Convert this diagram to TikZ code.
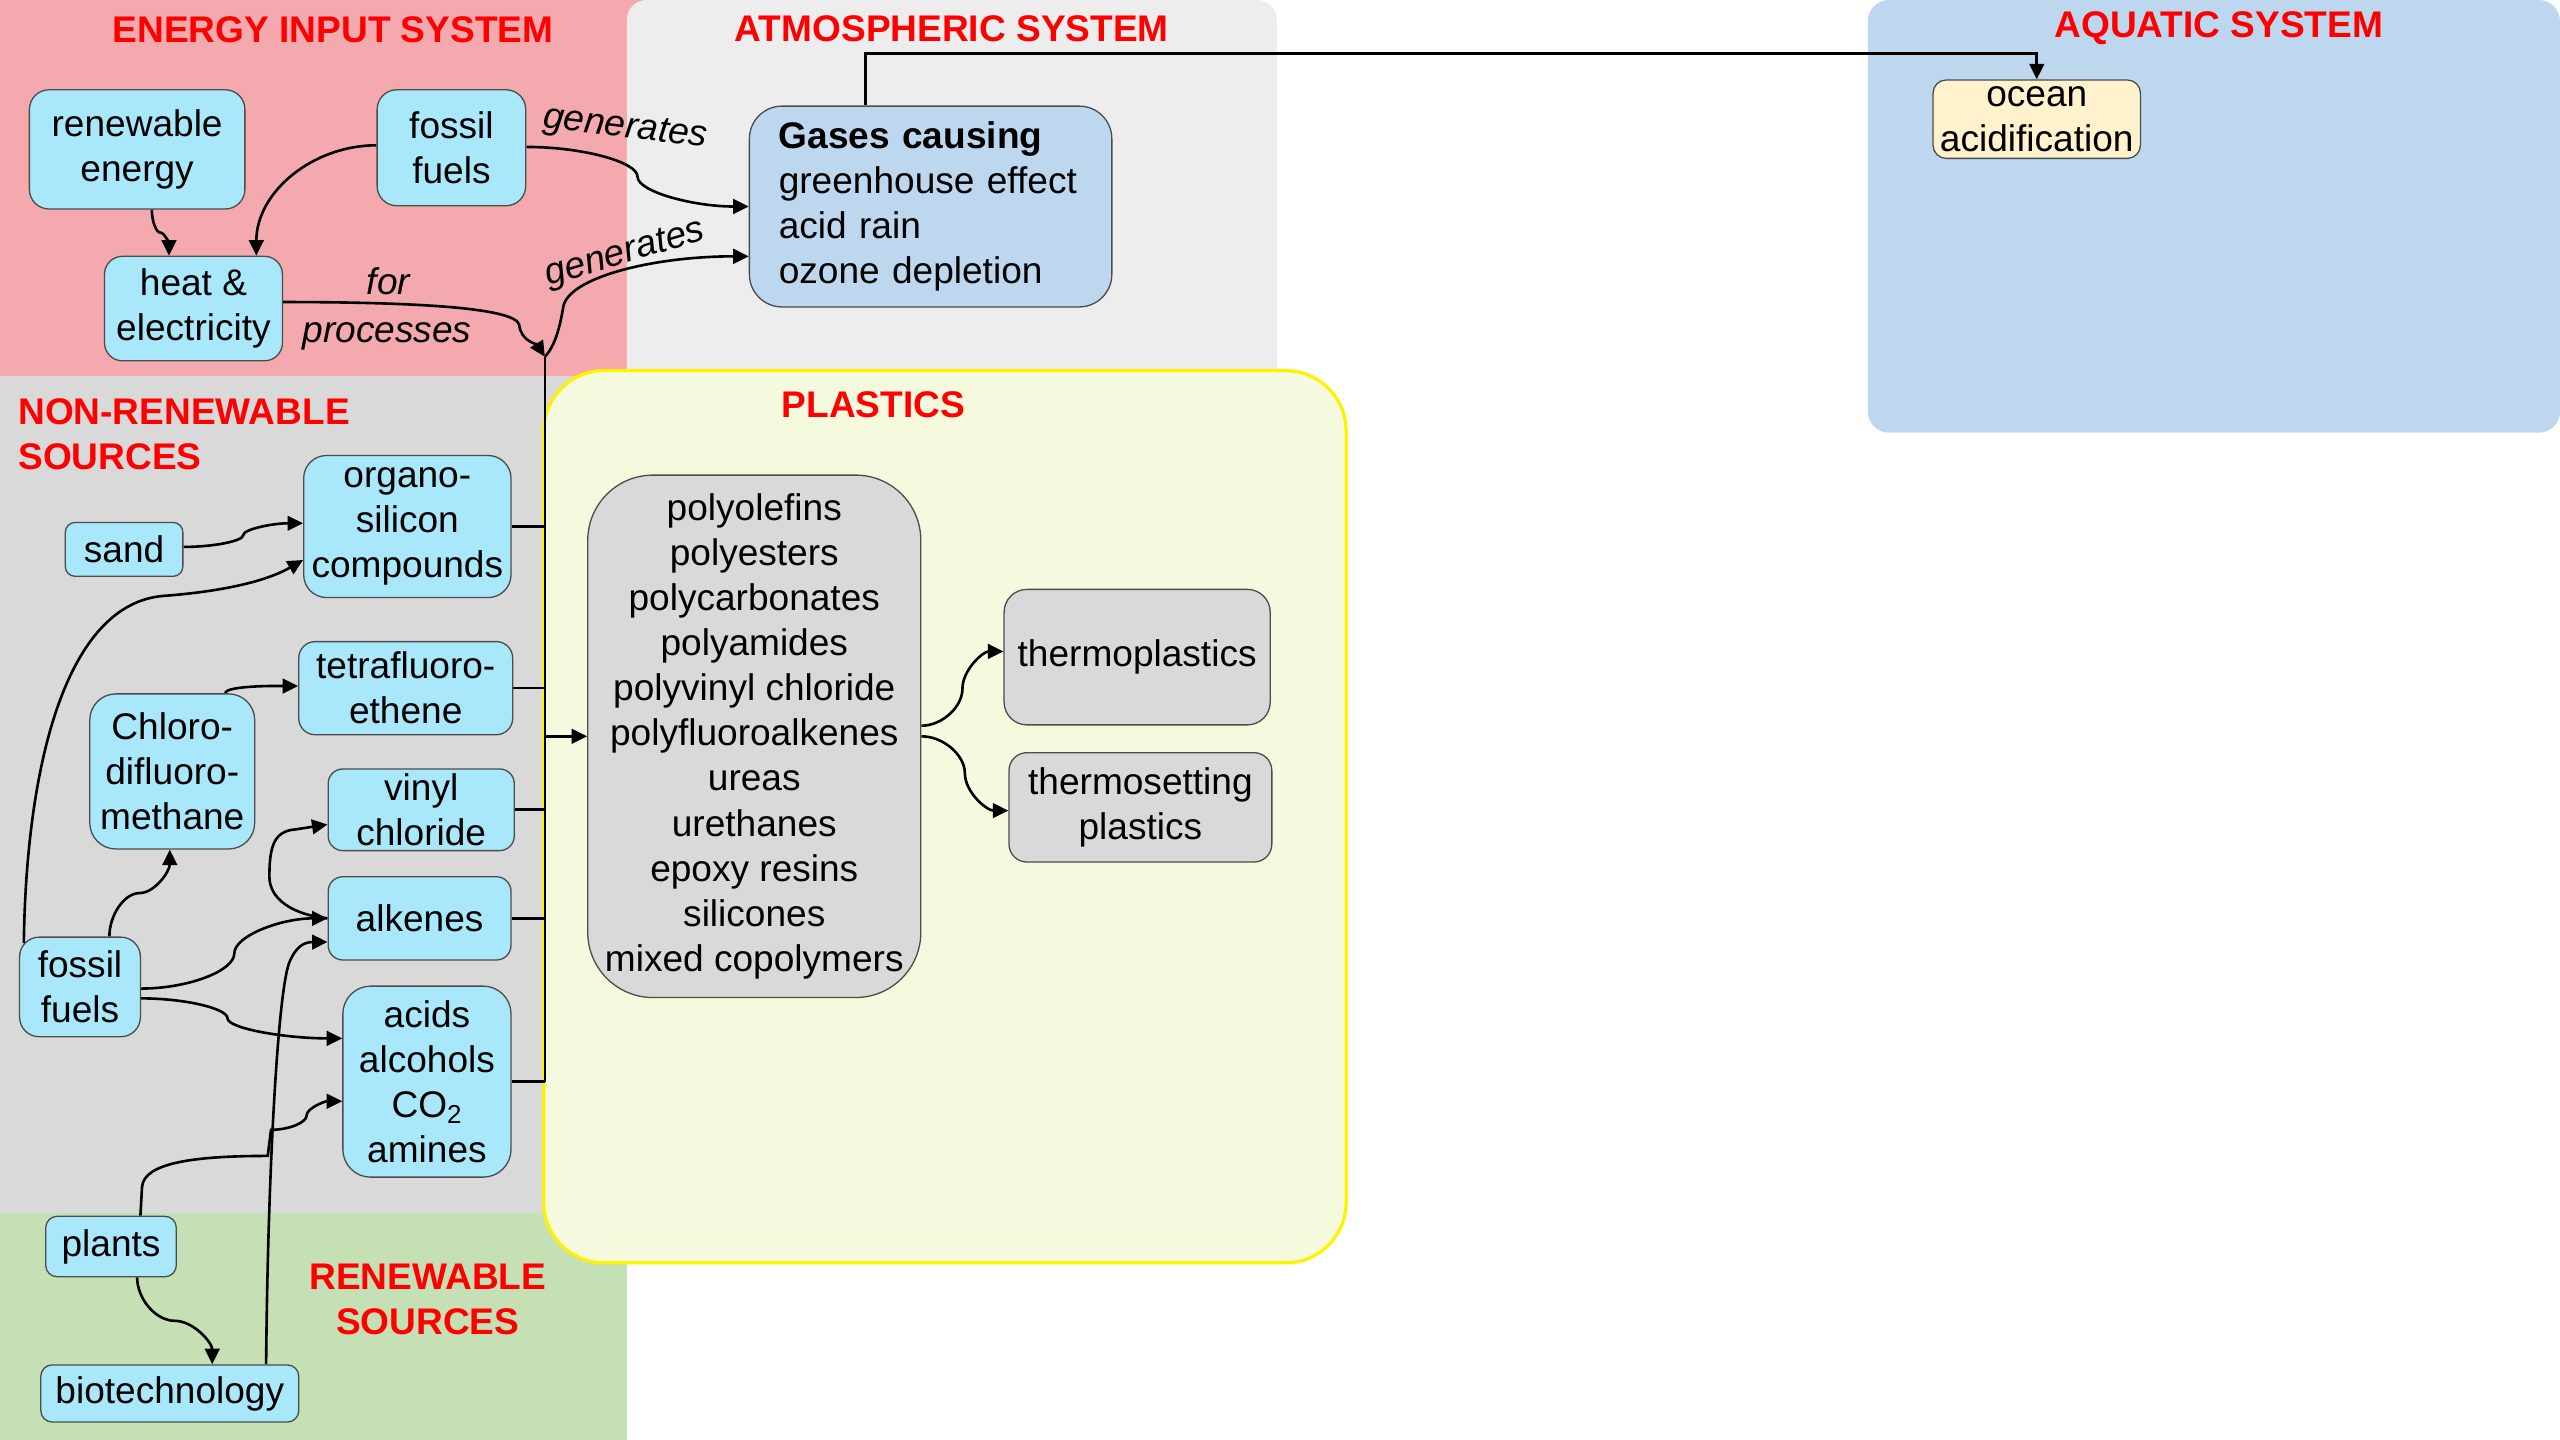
\documentclass[tikz,border=0pt]{standalone}
\usepackage{fontspec}
\setmainfont{Liberation Sans}
\usetikzlibrary{arrows.meta,calc}
\pgfdeclarelayer{bg}
\pgfdeclarelayer{edges}
\pgfsetlayers{bg,edges,main}
\definecolor{energybg}{HTML}{F3A9AD}
\definecolor{atmobg}{HTML}{EDEDED}
\definecolor{nonrenbg}{HTML}{D9D9D9}
\definecolor{renbg}{HTML}{C5E0B4}
\definecolor{aquabg}{HTML}{BDD7EE}
\definecolor{plastbg}{HTML}{F5FADF}
\definecolor{srcfill}{HTML}{A9E7FB}
\definecolor{gasfill}{HTML}{BDD7EE}
\definecolor{oceanfill}{HTML}{FFF2CC}
\definecolor{polyfill}{HTML}{D9D9D9}
\definecolor{titlered}{HTML}{FF0000}
\newcommand\bodyfs{\fontsize{22.7}{27.6}\selectfont}

\tikzset{
  box/.style={draw=black!70, line width=0.8pt, align=center, inner sep=0pt, font=\bodyfs},
  src/.style={box, fill=srcfill},
  poly/.style={box, fill=polyfill},
  title/.style={text=titlered, font=\bodyfs\bfseries, inner sep=0pt},
  lbl/.style={font=\bodyfs\itshape, inner sep=0pt},
  conn/.style={line width=1.6pt, -{Triangle[length=9.5pt,width=9pt]}},
  link/.style={line width=1.6pt},
  % curved connector, horizontal at both ends, turning at a vertical middle
  hc/.style={to path={let \p1=(\tikztostart),\p2=(\tikztotarget),\n1={#1} in
    .. controls ({\x1+0.5*\n1*((\x2)-(\x1))},\y1) and ({\x1+\n1*((\x2)-(\x1))},{0.75*(\y1)+0.25*(\y2)})
    .. ({\x1+\n1*((\x2)-(\x1))},{0.5*(\y1)+0.5*(\y2)})
    .. controls ({\x1+\n1*((\x2)-(\x1))},{0.25*(\y1)+0.75*(\y2)}) and ({\x2-0.5*(1-\n1)*((\x2)-(\x1))},\y2)
    .. (\tikztotarget)}},
  hc/.default=0.5,
  % curved connector, vertical at both ends
  vc/.style={to path={let \p1=(\tikztostart),\p2=(\tikztotarget) in
    .. controls (\x1,{0.75*(\y1)+0.25*(\y2)}) and ({0.75*(\x1)+0.25*(\x2)},{0.5*(\y1)+0.5*(\y2)})
    .. ({0.5*(\x1)+0.5*(\x2)},{0.5*(\y1)+0.5*(\y2)})
    .. controls ({0.25*(\x1)+0.75*(\x2)},{0.5*(\y1)+0.5*(\y2)}) and (\x2,{0.25*(\y1)+0.75*(\y2)})
    .. (\tikztotarget)}},
}

\begin{document}
\begin{tikzpicture}[x=1pt,y=-1pt]
\useasboundingbox (0,0) rectangle (1568,882);

% ---------- regions ----------
\begin{pgfonlayer}{bg}
  \fill[energybg] (0,0) rectangle (400,230);
  \fill[nonrenbg] (0,230) rectangle (384,743);
  \fill[renbg] (0,743) rectangle (384,882);
  \fill[atmobg, rounded corners=12] (384,0) rectangle (782,260);
  \fill[aquabg, rounded corners=13] (1144,0) rectangle (1568,265);
  \filldraw[fill=plastbg, draw=yellow, line width=2pt, rounded corners=37] (333,227) rectangle (824.5,773.5);
\end{pgfonlayer}

% ---------- region titles ----------
\node[title] (tEnergy) at (204,18) {ENERGY INPUT SYSTEM};
\node[title] (tAtmo) at (583,17.5) {ATMOSPHERIC SYSTEM};
\node[title] (tAqua) at (1359,17) {AQUATIC SYSTEM};
\node[title, align=left, anchor=north west] (tNonren) at (11,244) {NON-RENEWABLE\\SOURCES};
\node[title] (tPlast) at (535,248) {PLASTICS};
\node[title, align=center, anchor=north] (tRen) at (262,774) {RENEWABLE\\SOURCES};

% ---------- energy input ----------
\node[src, minimum width=132, minimum height=73, rounded corners=12] (renew) at (84,91.5) {renewable\\energy};
\node[src, minimum width=91, minimum height=71, rounded corners=12] (fosstop) at (276.5,90.5) {fossil\\fuels};
\node[src, minimum width=109, minimum height=64, rounded corners=11] (heat) at (118.5,189) {heat \&\\electricity};

% ---------- atmosphere and water ----------
\node[box, fill=gasfill, minimum width=222, minimum height=123, rounded corners=20,
      text width=186, inner xsep=18, align=left] (gases) at (570,126.5)
      {\textbf{Gases causing}\\greenhouse effect\\acid rain\\ozone depletion};
\node[box, fill=oceanfill, minimum width=127, minimum height=48, rounded corners=8] (ocean) at (1247.5,73) {ocean\\acidification};

% ---------- sources ----------
\node[src, minimum width=72, minimum height=33, rounded corners=6] (sand) at (76,336.5) {sand};
\node[src, minimum width=127, minimum height=87, rounded corners=14] (organo) at (249.5,322.5) {organo-\\silicon\\compounds};
\node[src, minimum width=131, minimum height=57, rounded corners=10] (tetra) at (248.5,421.5) {tetrafluoro-\\ethene};
\node[src, minimum width=101, minimum height=95, rounded corners=16] (chloro) at (105.5,472.5) {Chloro-\\difluoro-\\methane};
\node[src, minimum width=114, minimum height=50, rounded corners=9] (vinyl) at (258,496) {vinyl\\chloride};
\node[src, minimum width=112, minimum height=51, rounded corners=9] (alkenes) at (257,562.5) {alkenes};
\node[src, minimum width=74, minimum height=61, rounded corners=12] (fosslow) at (49,604.5) {fossil\\fuels};
\node[src, minimum width=103, minimum height=117, rounded corners=17] (acids) at (261.5,662.5) {acids\\alcohols\\CO\textsubscript{2}\\amines};
\node[src, minimum width=80, minimum height=37, rounded corners=7] (plants) at (68,763.5) {plants};
\node[src, minimum width=158, minimum height=35, rounded corners=7] (biotech) at (104,853.5) {biotechnology};

% ---------- plastics ----------
\node[poly, minimum width=204, minimum height=320, rounded corners=40] (polymers) at (462,451)
  {polyolefins\\polyesters\\polycarbonates\\polyamides\\polyvinyl chloride\\polyfluoroalkenes\\ureas\\urethanes\\epoxy resins\\silicones\\mixed copolymers};
\node[poly, minimum width=163, minimum height=83, rounded corners=14] (thermo) at (696.5,402.5) {thermoplastics};
\node[poly, minimum width=161, minimum height=67, rounded corners=11] (thermoset) at (698.5,494.5) {thermosetting\\plastics};

% ---------- connector labels ----------
\node[lbl, rotate=-7] (gen1) at (383,79) {generates};
\node[lbl, rotate=16.5] (gen2) at (383,156) {generates};
\node[lbl] (for) at (238,172.5) {for};
\node[lbl] (proc) at (237,206) {processes};

\coordinate (junc) at (333.7,218.5);
\coordinate (busend) at (acids.east -| junc);

% ---------- connectors ----------
\begin{pgfonlayer}{edges}
  % energy input
  \draw[conn] ($(renew.south)+(9,0)$) to[vc] ($(heat.north)+(-15,0)$);
  \draw[conn] ($(fosstop.west)+(0,-1.5)$) to[out=180,in=90] ($(heat.north)+(38.5,0)$);
  \draw[conn] ($(fosstop.east)+(0,-0.5)$) to[hc] (gases.west);
  \draw[conn] ($(heat.east)+(0,-4)$) .. controls (260,185) and (316,189) .. (318,199)
              .. controls (319,209) and (329,211) .. (junc);
  \draw[conn] (junc) .. controls (340,212) and (343,200) .. (345,188)
              .. controls (348,170) and (400,157) .. ($(gases.west)+(0,30.5)$);
  \draw[conn] ($(gases.north)+(-40,0)$) |- ($(ocean.north)+(0,-16)$) -- (ocean.north);

  % collecting line into the plastics
  \draw[link] (junc) -- (busend);
  \draw[link] (organo.east) -- (organo.east -| junc);
  \draw[link] (tetra.east) -- (tetra.east -| junc);
  \draw[link] (vinyl.east) -- (vinyl.east -| junc);
  \draw[link] (alkenes.east) -- (alkenes.east -| junc);
  \draw[link] (acids.east) -- (busend);
  \draw[conn] (polymers.west -| junc) -- (polymers.west);

  % plastics classes
  \draw[conn] ($(polymers.east)+(0,-6.5)$) to[hc] ($(thermo.west)+(0,-3.5)$);
  \draw[conn] (polymers.east) to[hc] ($(thermoset.west)+(0,2)$);

  % non-renewable sources
  \draw[conn] ($(sand.east)+(0,-1.5)$) to[hc] ($(organo.west)+(0,-2)$);
  \draw[conn] ($(fosslow.north west)+(3,4)$) .. controls (16,470) and (40,370) .. (100,365)
              .. controls (140,362) and (165,355) .. ($(organo.west)+(0,20.5)$);
  \draw[conn] ($(fosslow.north)+(18,0)$) to[vc] ($(chloro.south)+(-1.5,0)$);
  \draw[conn] ($(chloro.north)+(32.5,0)$) to[out=90,in=180,looseness=0.3] ($(tetra.west)+(0,-1.3)$);
  \draw[conn] ($(fosslow.east)+(0,1)$) to[hc] (alkenes.west);
  \draw[conn] ($(fosslow.east)+(0,7)$) to[hc=0.43] ($(acids.west)+(0,-26.5)$);
  \draw[conn] (alkenes.west) .. controls (178,560) and (165,550) .. (165,537)
              .. controls (165,518) and (168,509) .. (181,508) -- ($(vinyl.west)+(0,9)$);

  % renewable sources
  \draw[conn] ($(biotech.north)+(59,0)$) .. controls (164,720) and (170,610) .. (177,590)
              .. controls (181,580) and (186,577) .. ($(alkenes.west)+(0,14.5)$);
  \draw[conn] ($(plants.north)+(18,0)$) -- (87,727) .. controls (88,712) and (120,708) .. (164,708)
              -- (166,692) to[hc] ($(acids.west)+(0,12)$);
  \draw[conn] ($(plants.south)+(16,0)$) to[vc] ($(biotech.north)+(26,0)$);
\end{pgfonlayer}
\end{tikzpicture}
\end{document}
